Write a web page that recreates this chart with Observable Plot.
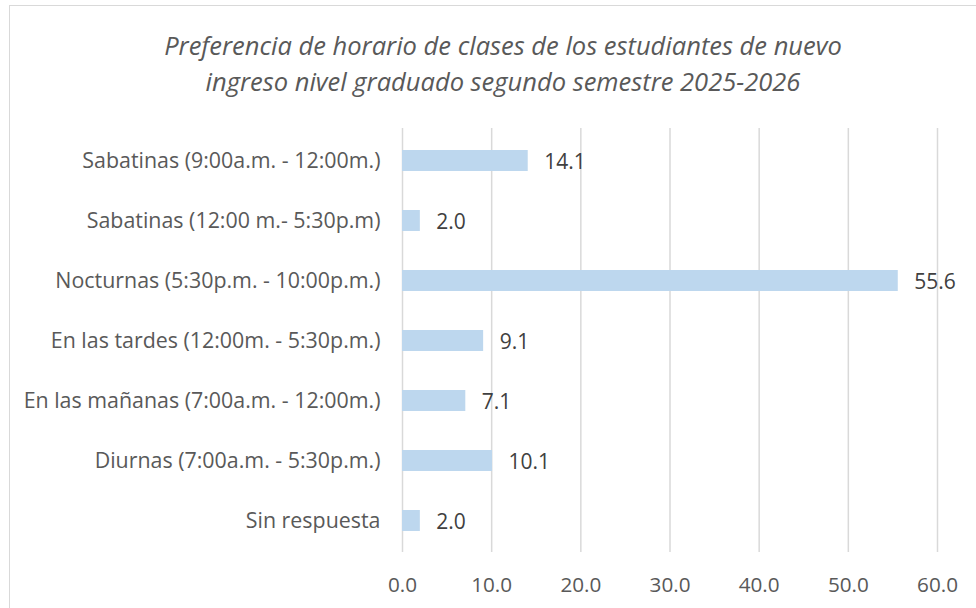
<!DOCTYPE html>
<html>
<head>
<meta charset="utf-8">
<script src="https://cdn.jsdelivr.net/npm/d3@7"></script>
<script src="https://cdn.jsdelivr.net/npm/@observablehq/plot@0.6"></script>
<style>
  body { margin: 0; background: #fff; }
  #wrap { position: relative; width: 976px; height: 608px; overflow: hidden; background: #fff; }
  #frame { position: absolute; left: 9px; top: 5px; width: 1000px; height: 700px; border: 1.5px solid #d9d9d9; box-sizing: border-box; }
  #title { position: absolute; left: 0; width: 1006px; top: 27px; text-align: center;
    font-family: "Open Sans", sans-serif; font-style: italic; font-size: 25.5px; line-height: 36px; color: #595959; }
  #chart { position: absolute; left: 0; top: 0; }
</style>
</head>
<body>
<div id="wrap">
  <div id="frame"></div>
  <div id="title">Preferencia de horario de clases de los estudiantes de nuevo<br>ingreso nivel graduado segundo semestre 2025-2026</div>
  <div id="chart"></div>
</div>
<script>
const categories = [
  "Sabatinas (9:00a.m. - 12:00m.)",
  "Sabatinas (12:00 m.- 5:30p.m)",
  "Nocturnas (5:30p.m. - 10:00p.m.)",
  "En las tardes (12:00m. - 5:30p.m.)",
  "En las mañanas (7:00a.m. - 12:00m.)",
  "Diurnas (7:00a.m. - 5:30p.m.)",
  "Sin respuesta"
];
const values = [14.1, 2.0, 55.6, 9.1, 7.1, 10.1, 2.0];
const xTicks = [0, 10, 20, 30, 40, 50, 60];

const data = categories.map((c, i) => ({category: c, value: values[i]}));

const chart = Plot.plot({
  width: 976,
  height: 608,
  marginLeft: 402,
  marginRight: 39,
  marginTop: 128,
  marginBottom: 56,
  style: {fontFamily: "'Open Sans', sans-serif", fontSize: "20px", color: "#595959", background: "transparent"},
  x: {domain: [0, 60], ticks: xTicks, tickFormat: d => d.toFixed(1), label: null},
  y: {domain: categories, paddingInner: 0.65, paddingOuter: 0.325, label: null},
  marks: [
    Plot.gridX(xTicks, {stroke: "#d9d9d9", strokeOpacity: 1, strokeWidth: 1.5}),
    Plot.barX(data, {x: "value", y: "category", fill: "#BDD7EE"}),
    Plot.text(data, {x: "value", y: "category", text: d => d.value.toFixed(1), textAnchor: "start", dx: 16, dy: 1, fill: "#404040", fontSize: 21}),
    Plot.axisX({ticks: xTicks, tickFormat: d => d.toFixed(1), tickSize: 0, tickPadding: 25, label: null, fill: "#595959", fontSize: 20.7}),
    Plot.axisY({tickSize: 0, tickPadding: 22, label: null, fill: "#595959", fontSize: 21.4})
  ]
});
document.getElementById("chart").appendChild(chart);
</script>
</body>
</html>
